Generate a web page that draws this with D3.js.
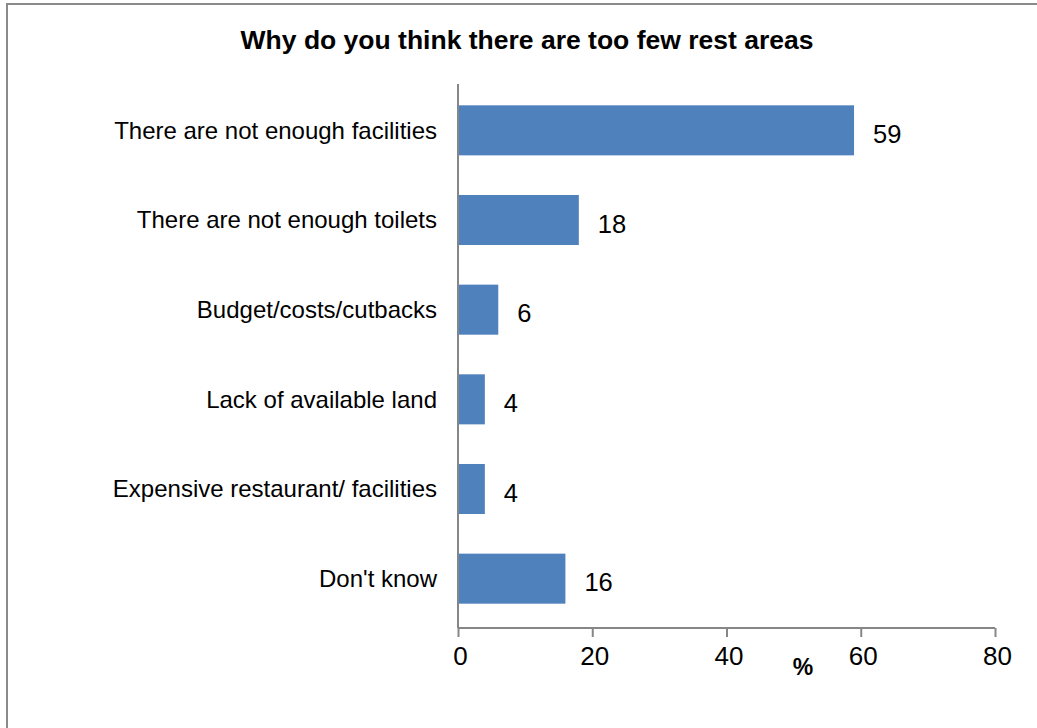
<!DOCTYPE html>
<html>
<head>
<meta charset="utf-8">
<script src="https://cdn.jsdelivr.net/npm/d3@7"></script>
<style>
  html, body { margin: 0; padding: 0; background: #fff; }
  svg { display: block; font-family: "Liberation Sans", Arial, sans-serif; }
</style>
</head>
<body>
<svg id="chart" width="1037" height="728"></svg>
<script>
// Survey answers: reasons given for too few rest areas (percent of respondents)
const categories = [
  "There are not enough facilities",
  "There are not enough toilets",
  "Budget/costs/cutbacks",
  "Lack of available land",
  "Expensive restaurant/ facilities",
  "Don't know"
];
const values = [59, 18, 6, 4, 4, 16];
const xTicks = [0, 20, 40, 60, 80];
const titleText = "Why do you think there are too few rest areas";
const axisTitle = "%";

const svg = d3.select("#chart");
const barColor = "#4f81bd";
const axisColor = "#868686";
const fontFamily = "Liberation Sans, Arial, sans-serif";

// Outer chart frame
svg.append("rect")
  .attr("x", 7).attr("y", 4)
  .attr("width", 1040).attr("height", 740)
  .attr("fill", "none")
  .attr("stroke", "#8a8a8a")
  .attr("stroke-width", 2);

const plot = { left: 458, right: 995, top: 84, bottom: 628 };

const x = d3.scaleLinear().domain([0, 80]).range([plot.left, plot.right]);
const y = d3.scaleBand().domain(categories)
  .range([85.5, 623.5])
  .paddingInner(0.442)
  .paddingOuter(0.221);

// Title
svg.append("text")
  .attr("x", 527).attr("y", 49)
  .attr("text-anchor", "middle")
  .attr("font-weight", "bold")
  .attr("font-size", 26.5)
  .attr("fill", "#000")
  .text(titleText);

// Bars
svg.append("g").selectAll("rect")
  .data(categories)
  .join("rect")
  .attr("x", x(0))
  .attr("y", d => y(d))
  .attr("width", (d, i) => x(values[i]) - x(0))
  .attr("height", y.bandwidth())
  .attr("fill", barColor);

// Value labels
svg.append("g").selectAll("text")
  .data(categories)
  .join("text")
  .attr("x", (d, i) => x(values[i]) + 19)
  .attr("y", d => y(d) + y.bandwidth() / 2 + 12.5)
  .attr("font-size", 25.5)
  .attr("fill", "#000")
  .text((d, i) => values[i]);

// Category axis (left)
const yAxis = svg.append("g")
  .attr("transform", `translate(${plot.left},0)`)
  .call(d3.axisLeft(y).tickSize(0).tickPadding(21));
yAxis.select(".domain").remove();
yAxis.selectAll("text")
  .attr("font-size", 24)
  .attr("font-family", fontFamily)
  .attr("dy", "0.35em")
  .attr("fill", "#000");
svg.append("line")
  .attr("x1", plot.left).attr("x2", plot.left)
  .attr("y1", plot.top).attr("y2", plot.bottom)
  .attr("stroke", axisColor).attr("stroke-width", 2);

// Value axis (bottom)
const xAxis = svg.append("g")
  .attr("transform", `translate(0,${plot.bottom})`)
  .call(d3.axisBottom(x).tickValues(xTicks).tickSize(9));
xAxis.select(".domain")
  .attr("stroke", axisColor).attr("stroke-width", 2)
  .attr("d", `M${plot.left},0H${plot.right}`);
xAxis.selectAll(".tick line").attr("stroke", axisColor).attr("stroke-width", 2);
xAxis.selectAll("text")
  .attr("y", 37)
  .attr("dy", null)
  .attr("x", 2)
  .attr("font-size", 26)
  .attr("font-family", fontFamily)
  .attr("fill", "#000");

// Axis unit
svg.append("text")
  .attr("x", 803).attr("y", 675)
  .attr("text-anchor", "middle")
  .attr("font-weight", "bold")
  .attr("font-size", 23)
  .attr("fill", "#000")
  .text(axisTitle);
</script>
</body>
</html>
